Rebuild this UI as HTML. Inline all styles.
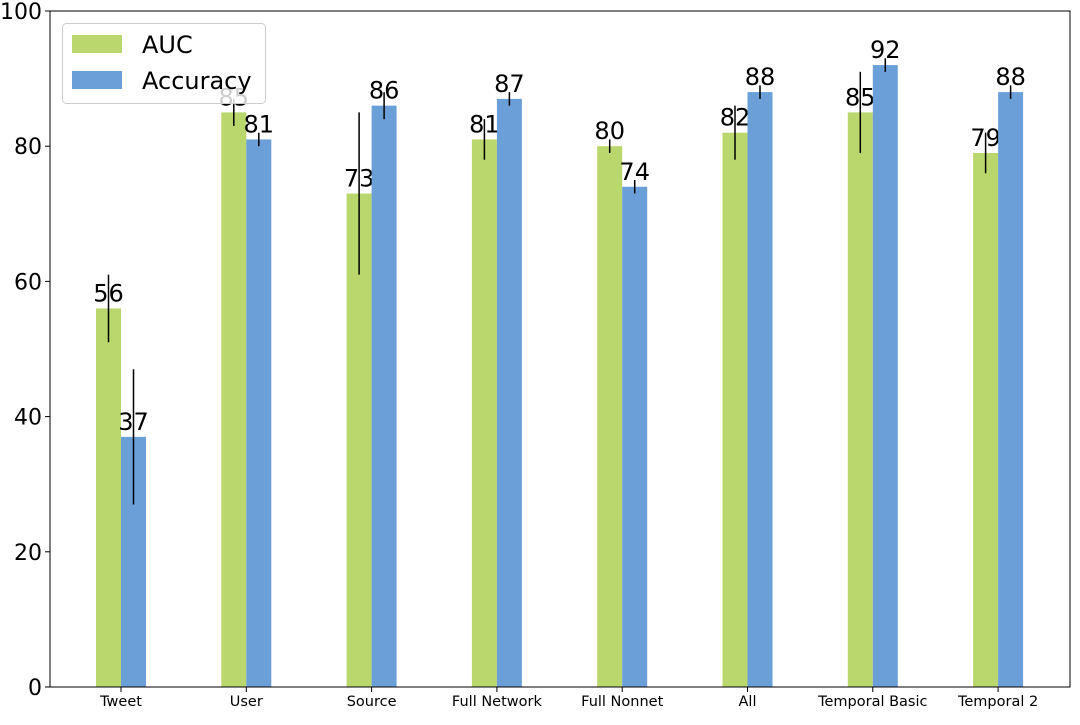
<!DOCTYPE html>
<html><head><meta charset="utf-8"><style>
body{margin:0;background:#fff}
svg text{font-family:"DejaVu Sans","Liberation Sans",sans-serif}
</style></head><body>
<svg id="chart" width="1080" height="720" xmlns="http://www.w3.org/2000/svg">
<g id="bars"></g>
<g id="axes"></g>
<g id="legend"></g>
</svg>
<script>
const categories=["Tweet","User","Source","Full Network","Full Nonnet","All","Temporal Basic","Temporal 2"];
const aucValues=[56,85,73,81,80,82,85,79];
const aucErr=[5,2,12,3,1,4,6,3];
const accValues=[37,81,86,87,74,88,92,88];
const accErr=[10,1,2,1,1,1,1,1];
const yTicks=[0,20,40,60,80,100];
const L=50,R=1070,T=11,B=687;
const y=v=>B-(v/100)*(B-T);
const step=125.3, x0=121;
const xc=i=>x0+i*step;
const bw=25;
const NS="http://www.w3.org/2000/svg";
function mk(tag,attrs,parent,text){const e=document.createElementNS(NS,tag);for(const k in attrs)e.setAttribute(k,attrs[k]);if(text!==undefined)e.textContent=text;parent.appendChild(e);return e;}
const bars=document.getElementById('bars'),axes=document.getElementById('axes'),leg=document.getElementById('legend');
function series(vals,errs,off,color,nm){
 vals.forEach((v,i)=>{
  const cx=xc(i)+off;
  const r=mk('rect',{x:cx-bw/2,y:y(v),width:bw,height:B-y(v),fill:color},bars);
  
  
  const l=mk('line',{x1:cx,x2:cx,y1:y(v+errs[i]),y2:y(v-errs[i]),stroke:'#000','stroke-width':1.5},bars);
  
  
  const t=mk('text',{x:cx,y:y(v)-7,'text-anchor':'middle','font-size':24,fill:'#000'},bars,String(v));
  
  
 });
}
series(aucValues,aucErr,-bw/2,'#b9d76c','auc');
series(accValues,accErr,bw/2,'#6a9fd8','accuracy');
const frame=mk('rect',{x:L,y:T,width:R-L,height:B-T,fill:'none',stroke:'#000','stroke-width':1},axes);


yTicks.forEach(v=>{
 mk('line',{x1:L-5,x2:L,y1:y(v),y2:y(v),stroke:'#000'},axes);
 const t=mk('text',{x:L-8,y:y(v)+8,'text-anchor':'end','font-size':22},axes,String(v));
 
 
});
categories.forEach((c,i)=>{
 mk('line',{x1:xc(i),x2:xc(i),y1:B,y2:B+5,stroke:'#000'},axes);
 const t=mk('text',{x:xc(i),y:B+19,'text-anchor':'middle','font-size':14.5},axes,c);
 
 
});
const box=mk('rect',{x:62.5,y:23.5,width:203,height:80,rx:4,fill:'#fff','fill-opacity':0.8,stroke:'#ccc'},leg);


[['AUC','#b9d76c',44],['Accuracy','#6a9fd8',80]].forEach(([n,c,yy])=>{
 const r=mk('rect',{x:72,y:yy-9,width:50,height:18,fill:c},leg);
 
 
 const t=mk('text',{x:142,y:yy+9,'font-size':24},leg,n);
 
 
});
</script>
</body></html>
